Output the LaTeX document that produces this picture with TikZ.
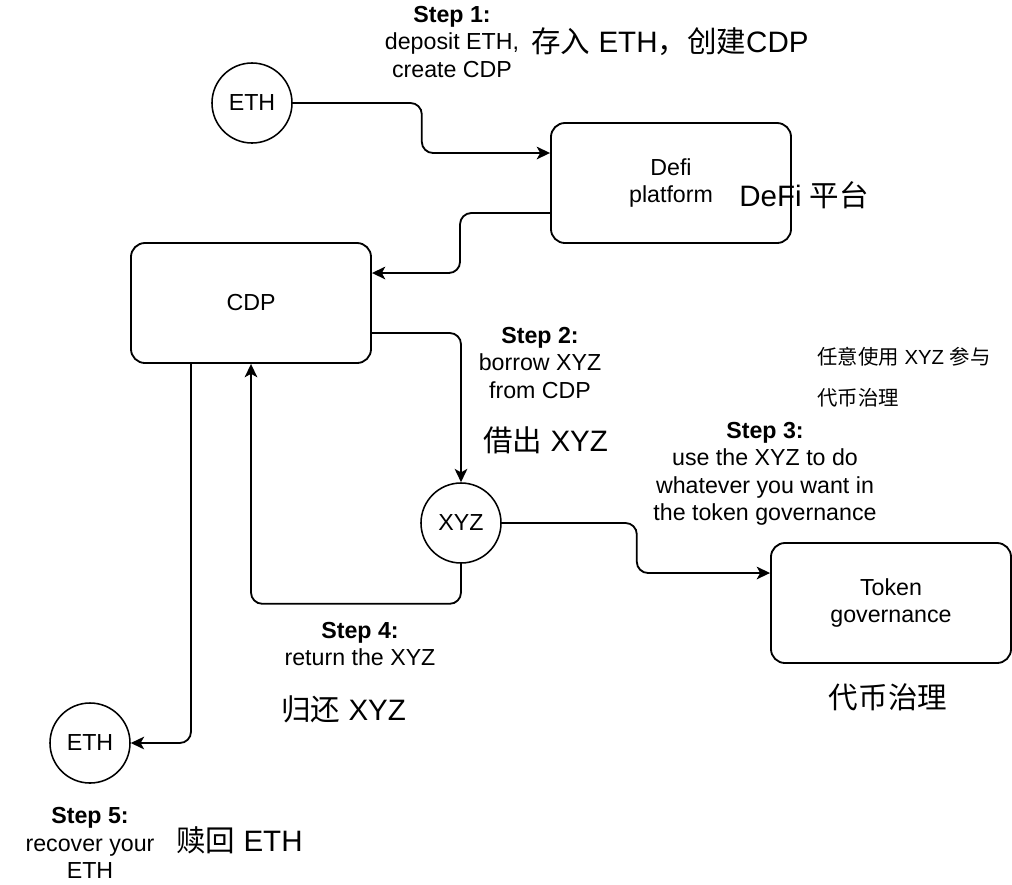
\documentclass[tikz,border=0pt]{standalone}
\usepackage{fontspec}
\setmainfont{Liberation Sans}
\newfontfamily\cjk{Noto Sans CJK SC}
\usepackage{tikz}
\usetikzlibrary{positioning, calc, arrows.meta}

\begin{document}
\begin{tikzpicture}[x=0.025cm, y=-0.025cm,
  every node/.style={font=\fontsize{16.5}{19.5}\selectfont},
  box/.style={draw, line width=1.3pt, rounded corners=10pt, minimum width=6cm, minimum height=3cm, align=center},
  coin/.style={draw, circle, line width=1.1pt, minimum size=2cm, inner sep=0pt},
  lbl/.style={align=center, inner sep=0pt},
  zh/.style={anchor=west, inner sep=0pt, font=\fontsize{21}{25}\selectfont},
  flow/.style={line width=1.3pt, rounded corners=8pt, -{Stealth[length=9.5pt,width=9pt,inset=2.5pt]}}]
\useasboundingbox (0,0) rectangle (1012,884);

%% coins and boxes
\node[coin] (ethin) at (252,103) {ETH};
\node[box] (defi) at (671,183) {Defi\\platform};
\node[box] (cdp) at (251,303) {CDP};
\node[coin] (xyz) at (461,523) {XYZ};
\node[box] (token) at (891,603) {Token\\governance};
\node[coin] (ethout) at (90,743) {ETH};

%% flows
\draw[flow] (ethin.east) -- ++(129,0) |- ($(defi.west)+(0,-30)$);
\draw[flow] ($(defi.west)+(0,30)$) -- ++(-90,0) |- ($(cdp.east)+(0,-30)$);
\draw[flow] ($(cdp.east)+(0,30)$) -| (xyz.north);
\draw[flow] (xyz.south) -- ++(0,40) -| (cdp.south);
\draw[flow] (xyz.east) -- ++(135,0) |- ($(token.west)+(0,-30)$);
\draw[flow] ($(cdp.south)+(-60,0)$) |- (ethout.east);

%% step labels
\node[lbl] (step1) at (452,42) {\textbf{Step 1:}\\deposit ETH,\\create CDP};
\node[zh] (step1zh) at (531,42) {{\cjk 存入} ETH{\cjk ，创建}CDP};
\node[zh] (defizh) at (739,195) {DeFi {\cjk 平台}};
\node[lbl] (step2) at (540,363) {\textbf{Step 2:}\\borrow XYZ\\from CDP};
\node[zh] (step2zh) at (483,440) {{\cjk 借出} XYZ};
\node[zh, align=left, font=\fontsize{14.5}{29}\selectfont] (notezh) at (817,377) {{\cjk 任意使用} XYZ {\cjk 参与}\\{\cjk 代币治理}};
\node[lbl] (step3) at (765,474) {\textbf{Step 3:}\\use the XYZ to do\\whatever you want in\\the token governance};
\node[zh, anchor=center] (tokenzh) at (888,697) {\cjk 代币治理};
\node[lbl] (step4) at (360,644) {\textbf{Step 4:}\\return the XYZ};
\node[zh] (step4zh) at (281,709) {{\cjk 归还} XYZ};
\node[lbl] (step5) at (90,843) {\textbf{Step 5:}\\recover your\\ETH};
\node[zh] (step5zh) at (176,840) {{\cjk 赎回} ETH};
\end{tikzpicture}
\end{document}
